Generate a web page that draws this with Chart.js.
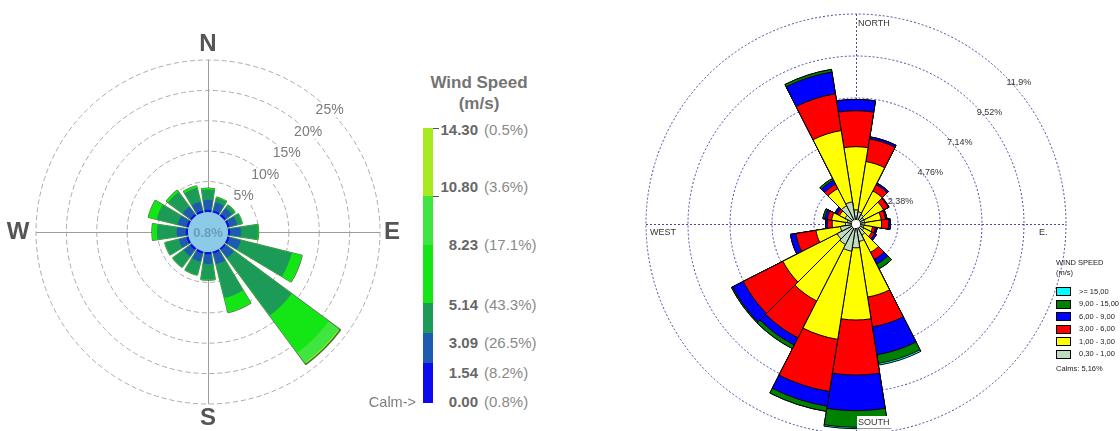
<!DOCTYPE html>
<html>
<head>
<meta charset="utf-8">
<title>Wind roses</title>
<script src="https://cdn.jsdelivr.net/npm/chart.js@4.4.1/dist/chart.umd.min.js"></script>
<style>
  html, body { margin:0; padding:0; background:#fff; }
  body { position:relative; width:1120px; height:431px; overflow:hidden;
         font-family:"Liberation Sans", Arial, Helvetica, sans-serif; }
  canvas { position:absolute; top:0; }
  #roseLeft { left:0; }
  #roseRight { left:600px; }
  .abs { position:absolute; white-space:nowrap; }
</style>
</head>
<body>
<canvas id="roseLeft" width="410" height="431" style="width:410px;height:431px"></canvas>
<canvas id="roseRight" width="520" height="440" style="width:520px;height:440px"></canvas>
<div id="keyLeft"></div>
<div id="keyRight"></div>
<script>
// ---------- Left rose: 16 compass points, frequency (%) per wind-speed class ----------
const leftDirections = ['N','NNE','NE','ENE','E','ESE','SE','SSE','S','SSW','SW','WSW','W','WNW','NW','NNW'];
const leftSpeed_0_154    = [0.35,0.35,0.35,0.35,0.35,0.35,0.30,0.35,0.35,0.35,0.35,0.35,0.35,0.35,0.35,0.35];
const leftSpeed_154_309  = [1.65,1.40,1.25,1.30,1.75,1.90,1.70,1.80,1.60,1.40,1.30,1.30,1.50,1.50,1.50,1.50];
const leftSpeed_309_514  = [1.70,0.75,0.55,0.80,2.80,8.65,11.80,5.75,2.55,2.20,2.20,2.30,3.25,3.55,3.00,2.35];
const leftSpeed_514_823  = [0.20,0.10,0.05,0.05,0.10,1.70,7.60,2.40,0.10,0.05,0.05,0.05,0.80,1.40,0.35,0.30];
const leftSpeed_823_1080 = [0,0,0,0,0,0.05,2.10,0.05,0,0,0,0,0,0,0,0];
const leftSpeed_1080_1430 = [0,0,0,0,0,0,0.30,0,0,0,0,0,0,0,0,0];
const leftCalm = 0.8;
const leftRings = [5, 10, 15, 20, 25];
const leftKeySpeeds = ['14.30','10.80','8.23','5.14','3.09','1.54','0.00'];
const leftKeyShares = ['0.5%','3.6%','17.1%','43.3%','26.5%','8.2%','0.8%'];

// ---------- Right rose: 20 sectors of 18°, frequency (%) per wind-speed class ----------
const rightSectors = ['0°','18°','36°','54°','72°','90°','108°','126°','144°','162°',
                      '180°','198°','216°','234°','252°','270°','288°','306°','324°','342°'];
const rightSpeed_03_1  = [0.80,0.70,0.60,0.50,0.50,0.50,0.45,0.50,0.70,1.00,1.35,1.56,1.30,1.20,0.90,0.60,0.50,0.70,1.16,1.27];
const rightSpeed_1_3   = [3.58,2.88,1.50,1.25,0.95,0.95,0.50,0.50,1.10,3.19,4.09,5.06,3.60,3.45,1.40,0.75,0.90,0.35,1.09,4.09];
const rightSpeed_3_6   = [2.04,1.30,0.40,0.30,0.25,0.40,0.17,0.18,0.45,1.71,3.12,2.99,2.34,2.52,1.15,0.27,0.25,0.15,0.28,2.11];
const rightSpeed_6_9   = [0.64,0.12,0.10,0.05,0.08,0.10,0.10,0.12,0.30,1.60,2.02,0.84,0.46,0.68,0.31,0.10,0.15,0.15,0.25,1.25];
const rightSpeed_9_15  = [0,0,0,0,0,0,0,0,0.30,0.50,0.94,0.30,0.23,0.07,0,0,0.10,0,0.12,0.15];
const rightSpeed_15up  = [0,0,0,0,0,0,0,0,0,0.10,0.08,0,0,0,0,0,0,0,0,0];
const rightCalms = 5.16;
const rightRings = [2.38, 4.76, 7.14, 9.52, 11.9];
const rightKeyClasses = ['>= 15,00','9,00 - 15,00','6,00 - 9,00','3,00 - 6,00','1,00 - 3,00','0,30 - 1,00'];

// ---------- styling ----------
const FONT = '"Liberation Sans", Arial, Helvetica, sans-serif';
const leftColors  = ['#0b0bef', '#1d5ab2', '#1c9a57', '#14e514', '#3fe63f', '#a7ea20'];
const rightColors = ['#c0dcc0', '#ffff00', '#ff0000', '#0000ff', '#008000', '#00ffff'];
const leftWedgeDeg = 17, leftGapDeg = 5.5;
const leftScaleMin = -3.3;          // 0 % sits on the rim of the calm disc
const rightCalmDisc = 0.23;         // radius of the white centre disc (scale units)

// running totals so that each speed class is drawn as a ring on top of the previous ones
function stack(bands) {
  const out = [];
  let run = bands[0].map(() => 0);
  bands.forEach(b => { run = run.map((v, i) => v + b[i]); out.push(run.slice()); });
  return out;
}

// ---------- left rose ----------
const leftStacked = stack([leftSpeed_0_154, leftSpeed_154_309, leftSpeed_309_514,
                           leftSpeed_514_823, leftSpeed_823_1080, leftSpeed_1080_1430]);
const leftLabels = [];
leftDirections.forEach(d => leftLabels.push(d, ''));
function withGaps(values) {
  const out = [];
  values.forEach(v => out.push(v, leftScaleMin));
  return out;
}
const leftAngle = (c) => (c.dataIndex % 2 === 0 ? leftWedgeDeg : leftGapDeg);
const leftDatasets = [{
  label: 'Calm',
  data: [0],
  angle: 360,
  backgroundColor: '#8ccbe8',
  borderWidth: 0
}];
leftStacked.forEach((vals, k) => {
  const outermost = k === leftStacked.length - 1;
  leftDatasets.push({
    label: 'class ' + k,
    data: withGaps(vals),
    angle: leftAngle,
    backgroundColor: (c) => (c.dataIndex % 2 === 0 ? leftColors[k] : 'rgba(0,0,0,0)'),
    borderWidth: (c) => (outermost && c.dataIndex % 2 === 0 ? 1.6 : 0),
    borderColor: 'rgba(20,75,20,0.75)'
  });
});

const leftDecor = {
  id: 'leftDecor',
  beforeDatasetsDraw(chart) {
    const s = chart.scales.r, ctx = chart.ctx;
    const cx = s.xCenter, cy = s.yCenter, R = s.drawingArea;
    ctx.save();
    ctx.strokeStyle = '#9d9d9d';
    ctx.lineWidth = 1;
    ctx.beginPath();
    ctx.moveTo(cx - R, cy + 0.5); ctx.lineTo(cx + R, cy + 0.5);
    ctx.moveTo(cx + 0.5, cy - R); ctx.lineTo(cx + 0.5, cy + R);
    ctx.stroke();
    ctx.restore();
  },
  afterDatasetsDraw(chart) {
    const s = chart.scales.r, ctx = chart.ctx;
    const cx = s.xCenter, cy = s.yCenter, R = s.drawingArea;
    ctx.save();
    // ring values along the NE diagonal
    ctx.font = '14px ' + FONT;
    ctx.textAlign = 'center';
    ctx.textBaseline = 'middle';
    leftRings.forEach(v => {
      const d = s.getDistanceFromCenterForValue(v);
      const x = cx + d * Math.SQRT1_2, y = cy - d * Math.SQRT1_2;
      const t = v + '%';
      const w = ctx.measureText(t).width;
      ctx.fillStyle = '#fff';
      ctx.fillRect(x - w / 2 - 2, y - 7, w + 4, 14);
      ctx.fillStyle = '#7b7b7b';
      ctx.fillText(t, x, y);
    });
    // calm share in the centre disc
    ctx.font = 'bold 13px ' + FONT;
    ctx.fillStyle = '#6c9cbd';
    ctx.fillText(leftCalm + '%', cx, cy + 1);
    // compass letters
    ctx.font = 'bold 24px ' + FONT;
    ctx.fillStyle = '#555';
    ctx.fillText('N', cx, cy - R - 16);
    ctx.fillText('S', cx, cy + R + 14);
    ctx.fillText('E', cx + R + 12, cy);
    ctx.fillText('W', cx - R - 18, cy);
    ctx.restore();
  }
};

new Chart(document.getElementById('roseLeft'), {
  type: 'polarArea',
  data: { labels: leftLabels, datasets: leftDatasets },
  options: {
    responsive: false,
    animation: false,
    events: [],
    layout: { padding: { left: 36, right: 30, top: 60, bottom: 27 } },
    plugins: { legend: { display: false }, tooltip: { enabled: false } },
    scales: {
      r: {
        min: leftScaleMin,
        max: leftRings[leftRings.length - 1],
        startAngle: -leftWedgeDeg / 2,
        afterBuildTicks: (sc) => { sc.ticks = leftRings.map(v => ({ value: v })); },
        ticks: { display: false },
        grid: { circular: true, color: '#ababab', lineWidth: 1 },
        border: { dash: [5, 3] },
        angleLines: { display: false },
        pointLabels: { display: false }
      }
    }
  },
  plugins: [leftDecor]
});

// ---------- right rose ----------
const rightStacked = stack([rightSpeed_03_1, rightSpeed_1_3, rightSpeed_3_6,
                            rightSpeed_6_9, rightSpeed_9_15, rightSpeed_15up]);
const rightDatasets = [{
  label: 'Calms',
  data: [rightCalmDisc],
  angle: 360,
  backgroundColor: '#ffffff',
  borderWidth: 0
}];
rightStacked.forEach((vals, k) => {
  rightDatasets.push({
    label: rightKeyClasses[rightKeyClasses.length - 1 - k],
    data: vals,
    backgroundColor: rightColors[k],
    borderColor: '#000',
    borderWidth: 1
  });
});

const rightDecor = {
  id: 'rightDecor',
  beforeDatasetsDraw(chart) {
    const s = chart.scales.r, ctx = chart.ctx;
    const cx = s.xCenter, cy = s.yCenter;
    const R = s.getDistanceFromCenterForValue(rightRings[rightRings.length - 1]);
    ctx.save();
    ctx.strokeStyle = '#4747a8';
    ctx.lineWidth = 1;
    ctx.setLineDash([2, 2]);
    ctx.beginPath();
    ctx.moveTo(cx - R, cy + 0.5); ctx.lineTo(cx + R, cy + 0.5);
    ctx.moveTo(cx + 0.5, cy - R); ctx.lineTo(cx + 0.5, cy + R);
    ctx.stroke();
    ctx.restore();
  },
  afterDatasetsDraw(chart) {
    const s = chart.scales.r, ctx = chart.ctx;
    const cx = s.xCenter, cy = s.yCenter;
    const R = s.getDistanceFromCenterForValue(rightRings[rightRings.length - 1]);
    ctx.save();
    ctx.font = '9px ' + FONT;
    ctx.textAlign = 'left';
    ctx.textBaseline = 'top';
    ctx.fillStyle = '#333';
    rightRings.forEach(v => {
      const d = s.getDistanceFromCenterForValue(v);
      ctx.fillText(String(v).replace('.', ',') + '%', cx + d * Math.SQRT1_2 + 2, cy - d * Math.SQRT1_2 + 3);
    });
    ctx.fillText('NORTH', cx + 2, cy - R + 5);
    ctx.fillText('WEST', cx - R + 4, cy + 4);
    ctx.fillText('E.', cx + R - 27, cy + 4);
    // boxed south label
    const w = ctx.measureText('SOUTH').width;
    ctx.fillStyle = '#fff';
    ctx.fillRect(cx + 1, cy + R - 18, w + 3, 12);
    ctx.strokeStyle = '#999';
    ctx.lineWidth = 1;
    ctx.beginPath();
    ctx.moveTo(cx + 1, cy + R - 5.5); ctx.lineTo(cx + w + 4, cy + R - 5.5);
    ctx.stroke();
    ctx.fillStyle = '#333';
    ctx.fillText('SOUTH', cx + 2, cy + R - 16);
    ctx.restore();
  }
};

new Chart(document.getElementById('roseRight'), {
  type: 'polarArea',
  data: { labels: rightSectors, datasets: rightDatasets },
  options: {
    responsive: false,
    animation: false,
    events: [],
    layout: { padding: { left: 46, right: 54, top: 14, bottom: 6 } },
    plugins: { legend: { display: false }, tooltip: { enabled: false } },
    scales: {
      r: {
        min: 0,
        max: rightRings[rightRings.length - 1],
        startAngle: -9,
        afterBuildTicks: (sc) => { sc.ticks = [0].concat(rightRings).map(v => ({ value: v })); },
        ticks: { display: false },
        grid: { circular: true, color: '#4747a8', lineWidth: 1 },
        border: { dash: [2, 2] },
        angleLines: { display: false },
        pointLabels: { display: false }
      }
    }
  },
  plugins: [rightDecor]
});

// ---------- keys ----------
function addDiv(parent, css, html) {
  const d = document.createElement('div');
  d.className = 'abs';
  d.style.cssText = css;
  if (html != null) d.innerHTML = html;
  parent.appendChild(d);
  return d;
}

// left colour bar
const keyL = document.getElementById('keyLeft');
addDiv(keyL, 'left:420px;width:118px;top:72px;text-align:center;font-weight:bold;font-size:17px;line-height:21px;color:#747474;',
       'Wind Speed<br>(m/s)');
const barEdges = [128, 196, 245, 303, 333, 363, 403];
for (let i = 0; i < 6; i++) {
  addDiv(keyL, 'left:423px;width:10px;top:' + barEdges[i] + 'px;height:' + (barEdges[i + 1] - barEdges[i]) +
         'px;background:' + leftColors[5 - i] + ';');
}
[0, 1].forEach(i => addDiv(keyL, 'left:433px;width:6px;top:' + barEdges[i] + 'px;height:1px;background:#555;'));
const keyLabelY = [130, 187, 245, 305, 343, 373, 402];
leftKeySpeeds.forEach((sp, i) => {
  addDiv(keyL, 'left:428px;width:50px;text-align:right;top:' + (keyLabelY[i] - 9) +
         'px;line-height:18px;font-size:15px;font-weight:bold;color:#676767;', sp);
  addDiv(keyL, 'left:484px;top:' + (keyLabelY[i] - 9) +
         'px;line-height:18px;font-size:15px;color:#8a8a8a;', '(' + leftKeyShares[i] + ')');
});
addDiv(keyL, 'left:356px;width:60px;text-align:right;top:393px;line-height:18px;font-size:14.5px;color:#7d7d7d;', 'Calm-&gt;');

// right boxes
const keyR = document.getElementById('keyRight');
addDiv(keyR, 'left:1056px;top:258px;font-size:7.5px;line-height:10px;color:#222;', 'WIND SPEED<br>(m/s)');
rightKeyClasses.forEach((txt, i) => {
  const top = 287 + i * 12.5;
  addDiv(keyR, 'left:1056px;top:' + top + 'px;width:15px;height:9px;box-sizing:border-box;border:1px solid #000;background:' +
         rightColors[5 - i] + ';');
  addDiv(keyR, 'left:1079px;top:' + (top - 0.5) + 'px;font-size:7.5px;line-height:10px;color:#222;', txt);
});
addDiv(keyR, 'left:1056px;top:363.5px;font-size:7.5px;line-height:10px;color:#222;',
       'Calms: ' + String(rightCalms).replace('.', ',') + '%');
</script>
</body>
</html>
